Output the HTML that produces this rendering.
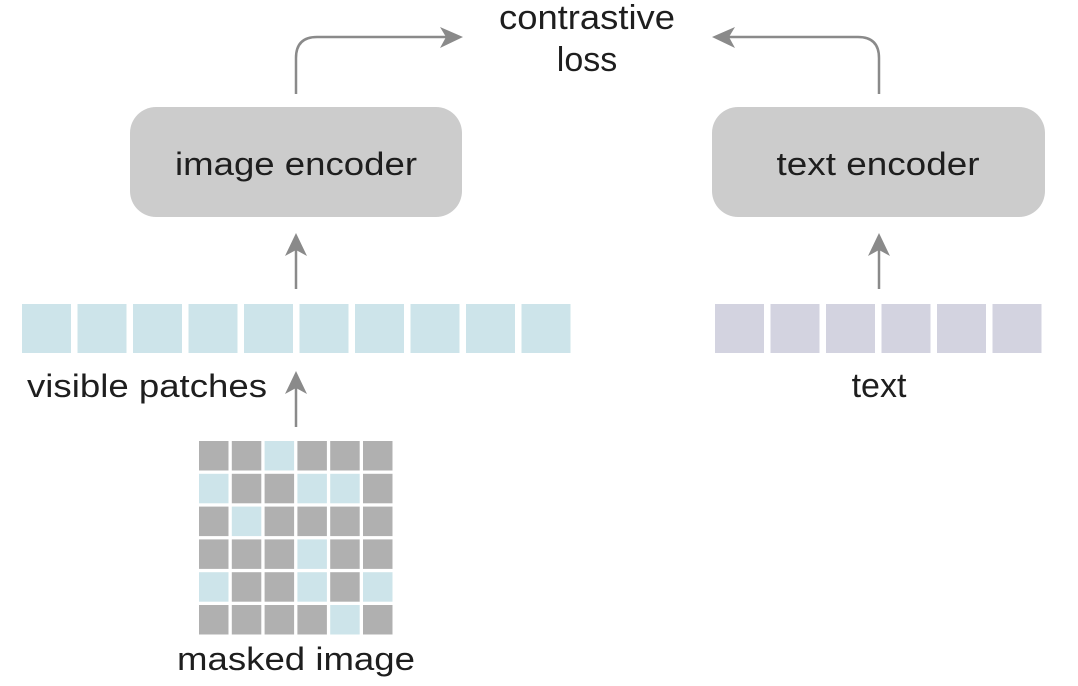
<!DOCTYPE html>
<html><head><meta charset="utf-8"><style>
html,body{margin:0;padding:0;background:#fff;width:1078px;height:686px;overflow:hidden}
text{font-family:"Liberation Sans",Arial,sans-serif;fill:#1e1e1e}
</style></head><body>
<svg width="1078" height="686" viewBox="0 0 1078 686" xmlns="http://www.w3.org/2000/svg">
<g stroke="#8a8a8a" stroke-width="2.5" fill="none">
<path d="M296,94 V58 Q296,37 317,37 H448"/>
<path d="M879,94 V58 Q879,37 858,37 H727"/>
<line x1="296" y1="289" x2="296" y2="248"/>
<line x1="879" y1="289" x2="879" y2="248"/>
<line x1="296" y1="427" x2="296" y2="386"/>
</g>
<g fill="#8a8a8a">
<path d="M463,37 L440,27 L446,37 L440,48 Z"/>
<path d="M712,37 L735,27 L729,37 L735,48 Z"/>
<path d="M296,233 L285,256 L296,250 L307,256 Z"/>
<path d="M879,233 L868,256 L879,250 L890,256 Z"/>
<path d="M296,371 L285,394 L296,388 L307,394 Z"/>
</g>
<rect x="130" y="107" width="332" height="110" rx="26" fill="#cccccc"/>
<rect x="712" y="107" width="333" height="110" rx="26" fill="#cccccc"/>
<text x="296" y="175" font-size="32" text-anchor="middle" textLength="242" lengthAdjust="spacingAndGlyphs">image encoder</text>
<text x="878" y="175" font-size="32" text-anchor="middle" textLength="203" lengthAdjust="spacingAndGlyphs">text encoder</text>
<text x="587" y="29" font-size="34" text-anchor="middle" textLength="176" lengthAdjust="spacingAndGlyphs">contrastive</text>
<text x="587" y="71" font-size="34" text-anchor="middle">loss</text>
<g fill="#cde4ea">
<rect x="22" y="304" width="49" height="49"/><rect x="77.5" y="304" width="49" height="49"/><rect x="133" y="304" width="49" height="49"/><rect x="188.5" y="304" width="49" height="49"/><rect x="244" y="304" width="49" height="49"/><rect x="299.5" y="304" width="49" height="49"/><rect x="355" y="304" width="49" height="49"/><rect x="410.5" y="304" width="49" height="49"/><rect x="466" y="304" width="49" height="49"/><rect x="521.5" y="304" width="49" height="49"/>
</g>
<g fill="#d3d3e0">
<rect x="715" y="304" width="49" height="49"/><rect x="770.5" y="304" width="49" height="49"/><rect x="826" y="304" width="49" height="49"/><rect x="881.5" y="304" width="49" height="49"/><rect x="937" y="304" width="49" height="49"/><rect x="992.5" y="304" width="49" height="49"/>
</g>
<text x="147" y="397" font-size="32" text-anchor="middle" textLength="240" lengthAdjust="spacingAndGlyphs">visible patches</text>
<text x="879" y="397" font-size="34" text-anchor="middle">text</text>
<text x="296" y="670" font-size="32" text-anchor="middle" textLength="238" lengthAdjust="spacingAndGlyphs">masked image</text>
<g fill="#b0b0b0">
<rect x="199" y="441" width="29.5" height="29.5"/><rect x="231.8" y="441" width="29.5" height="29.5"/><rect x="297.4" y="441" width="29.5" height="29.5"/><rect x="330.2" y="441" width="29.5" height="29.5"/><rect x="363" y="441" width="29.5" height="29.5"/>
<rect x="231.8" y="473.8" width="29.5" height="29.5"/><rect x="264.6" y="473.8" width="29.5" height="29.5"/><rect x="363" y="473.8" width="29.5" height="29.5"/>
<rect x="199" y="506.6" width="29.5" height="29.5"/><rect x="264.6" y="506.6" width="29.5" height="29.5"/><rect x="297.4" y="506.6" width="29.5" height="29.5"/><rect x="330.2" y="506.6" width="29.5" height="29.5"/><rect x="363" y="506.6" width="29.5" height="29.5"/>
<rect x="199" y="539.4" width="29.5" height="29.5"/><rect x="231.8" y="539.4" width="29.5" height="29.5"/><rect x="264.6" y="539.4" width="29.5" height="29.5"/><rect x="330.2" y="539.4" width="29.5" height="29.5"/><rect x="363" y="539.4" width="29.5" height="29.5"/>
<rect x="231.8" y="572.2" width="29.5" height="29.5"/><rect x="264.6" y="572.2" width="29.5" height="29.5"/><rect x="330.2" y="572.2" width="29.5" height="29.5"/>
<rect x="199" y="605" width="29.5" height="29.5"/><rect x="231.8" y="605" width="29.5" height="29.5"/><rect x="264.6" y="605" width="29.5" height="29.5"/><rect x="297.4" y="605" width="29.5" height="29.5"/><rect x="363" y="605" width="29.5" height="29.5"/>
</g>
<g fill="#cde4ea">
<rect x="264.6" y="441" width="29.5" height="29.5"/>
<rect x="199" y="473.8" width="29.5" height="29.5"/><rect x="297.4" y="473.8" width="29.5" height="29.5"/><rect x="330.2" y="473.8" width="29.5" height="29.5"/>
<rect x="231.8" y="506.6" width="29.5" height="29.5"/>
<rect x="297.4" y="539.4" width="29.5" height="29.5"/>
<rect x="199" y="572.2" width="29.5" height="29.5"/><rect x="297.4" y="572.2" width="29.5" height="29.5"/><rect x="363" y="572.2" width="29.5" height="29.5"/>
<rect x="330.2" y="605" width="29.5" height="29.5"/>
</g>
</svg>
</body></html>
